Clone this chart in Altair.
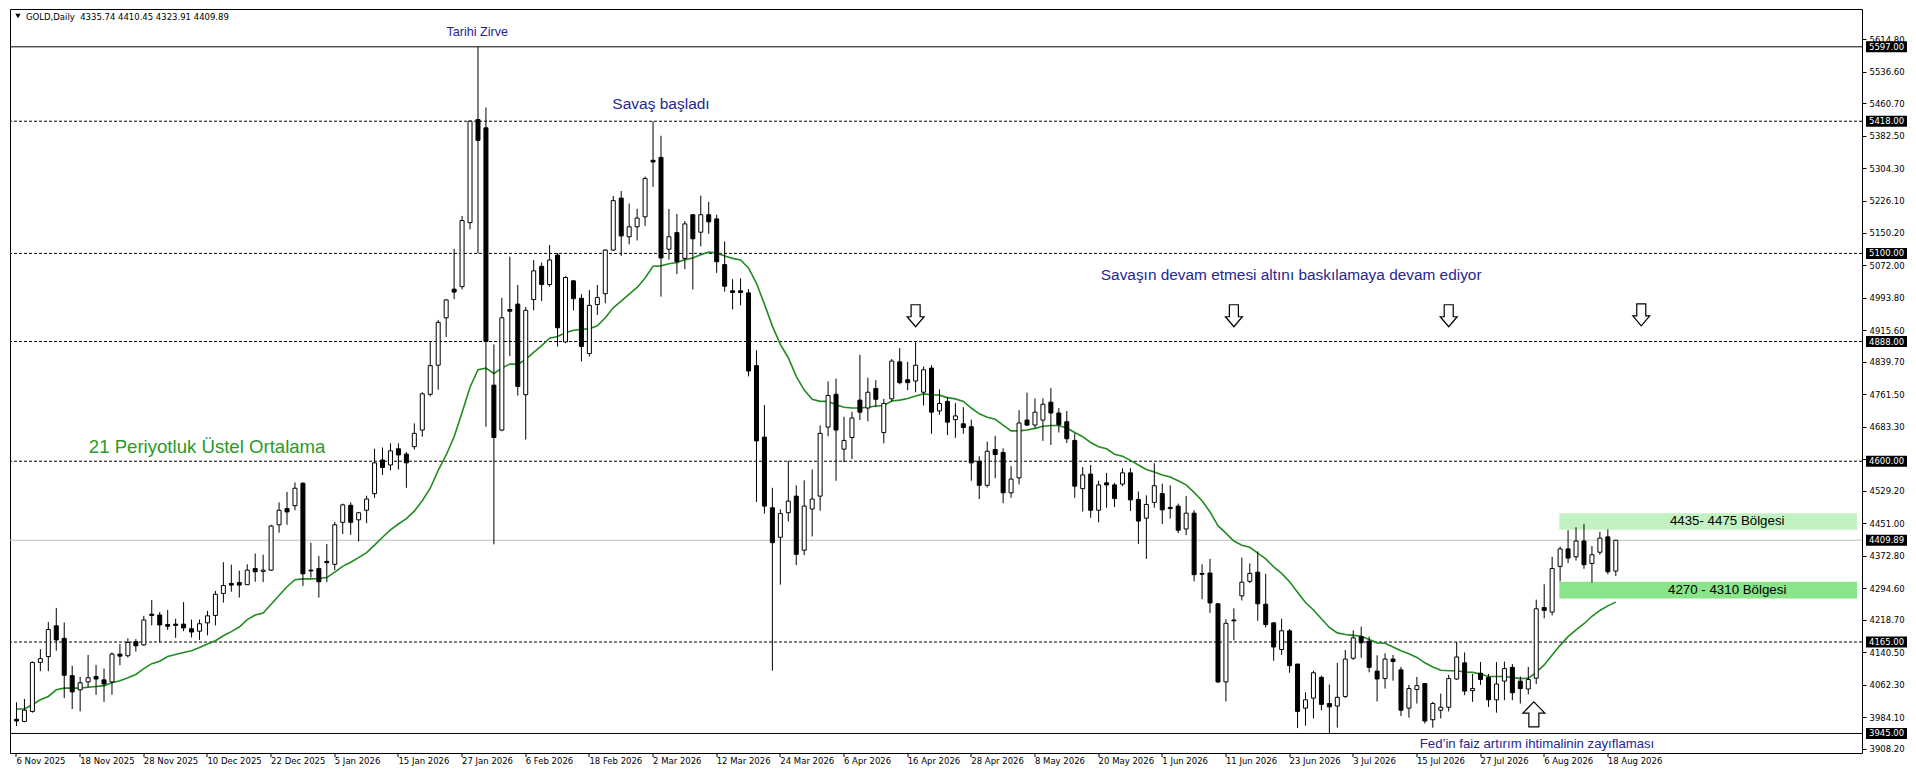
import altair as alt
import pandas as pd

# ---------------- data ----------------
x_labels = ["6 Nov 2025", "18 Nov 2025", "28 Nov 2025", "10 Dec 2025", "22 Dec 2025",
            "5 Jan 2026", "15 Jan 2026", "27 Jan 2026", "6 Feb 2026", "18 Feb 2026",
            "2 Mar 2026", "12 Mar 2026", "24 Mar 2026", "6 Apr 2026", "16 Apr 2026",
            "28 Apr 2026", "8 May 2026", "20 May 2026", "1 Jun 2026", "11 Jun 2026",
            "23 Jun 2026", "3 Jul 2026", "15 Jul 2026", "27 Jul 2026", "6 Aug 2026",
            "18 Aug 2026"]

opens = [3979, 3974, 3998, 4116, 4130, 4204, 4174, 4084, 4050, 4069,
         4082, 4074, 4069, 4136, 4132, 4166, 4158, 4232, 4230, 4207,
         4208, 4208, 4197, 4191, 4211, 4229, 4282, 4306, 4308, 4303,
         4342, 4335, 4338, 4447, 4486, 4493, 4547, 4338, 4342, 4359,
         4352, 4453, 4494, 4459, 4482, 4522, 4603, 4591, 4630, 4617,
         4635, 4675, 4761, 4831, 4945, 5014, 5020, 5174, 5422, 5402,
         4783, 4675, 4965, 4978, 4760, 4989, 5069, 5025, 5096, 4887,
         5034, 4992, 4859, 4977, 5003, 5108, 5233, 5140, 5164, 5188,
         5324, 5331, 5110, 5150, 5088, 5193, 5151, 5193, 5183, 5073,
         5010, 5010, 5005, 4830, 4658, 4488, 4417, 4476, 4516, 4386,
         4485, 4516, 4682, 4761, 4629, 4657, 4747, 4728, 4775, 4669,
         4750, 4839, 4796, 4793, 4766, 4824, 4721, 4744, 4700, 4690,
         4683, 4600, 4542, 4628, 4621, 4524, 4560, 4699, 4687, 4699,
         4742, 4716, 4695, 4650, 4534, 4569, 4482, 4548, 4543, 4545,
         4572, 4508, 4463, 4501, 4522, 4489, 4492, 4437, 4475, 4330,
         4331, 4257, 4069, 4218, 4276, 4311, 4333, 4256, 4211, 4147,
         4192, 4112, 4006, 4030, 4080, 4017, 4011, 4034, 4126, 4178,
         4167, 4095, 4077, 4124, 4098, 4006, 4051, 4065, 3978, 4001,
         4008, 4076, 4115, 4048, 4090, 4080, 4026, 4071, 4104, 4071,
         4052, 4078, 4248, 4237, 4347, 4389, 4370, 4408, 4354, 4381,
         4418, 4335.74]

highs = [4020, 4028, 4118, 4148, 4213, 4247, 4212, 4108, 4081, 4134,
         4110, 4101, 4140, 4160, 4174, 4172, 4228, 4266, 4237, 4242,
         4221, 4261, 4219, 4219, 4240, 4288, 4357, 4351, 4337, 4352,
         4378, 4375, 4447, 4501, 4526, 4549, 4549, 4404, 4372, 4401,
         4454, 4498, 4501, 4478, 4517, 4630, 4633, 4643, 4643, 4622,
         4691, 4766, 4887, 4940, 4990, 5111, 5190, 5420, 5597, 5451,
         4881, 4993, 5092, 5024, 4971, 5084, 5078, 5120, 5101, 5045,
         5036, 5002, 5012, 5024, 5110, 5238, 5250, 5220, 5207, 5285,
         5418, 5383, 5207, 5195, 5178, 5194, 5239, 5224, 5193, 5129,
         5038, 5040, 5014, 4867, 4735, 4536, 4484, 4601, 4542, 4554,
         4580, 4686, 4792, 4799, 4707, 4719, 4856, 4801, 4795, 4750,
         4846, 4872, 4839, 4888, 4828, 4831, 4773, 4754, 4740, 4730,
         4700, 4612, 4647, 4661, 4631, 4588, 4723, 4765, 4751, 4751,
         4776, 4728, 4721, 4667, 4586, 4591, 4553, 4572, 4548, 4583,
         4583, 4527, 4518, 4595, 4546, 4542, 4498, 4516, 4482, 4352,
         4365, 4258, 4220, 4246, 4368, 4354, 4383, 4329, 4213, 4221,
         4196, 4112, 4044, 4096, 4084, 4063, 4115, 4146, 4193, 4202,
         4178, 4133, 4138, 4134, 4105, 4062, 4081, 4065, 4021, 4041,
         4086, 4165, 4140, 4088, 4117, 4088, 4117, 4118, 4112, 4082,
         4105, 4267, 4304, 4370, 4395, 4434, 4441, 4449, 4396, 4430,
         4436, 4410.45]

lows = [3963, 3972, 3995, 4095, 4095, 4144, 4030, 4004, 3998, 4056,
        4038, 4021, 4038, 4109, 4128, 4142, 4156, 4205, 4164, 4194,
        4175, 4191, 4176, 4170, 4181, 4205, 4260, 4286, 4272, 4303,
        4310, 4309, 4336, 4428, 4447, 4482, 4300, 4320, 4272, 4309,
        4338, 4425, 4423, 4407, 4451, 4512, 4567, 4578, 4580, 4536,
        4628, 4659, 4756, 4772, 4899, 4990, 5013, 5158, 5100, 4683,
        4400, 4672, 4853, 4758, 4652, 4963, 4985, 5020, 4876, 4884,
        4963, 4840, 4852, 4952, 4980, 5106, 5094, 5122, 5131, 5166,
        5260, 4996, 5085, 5050, 5062, 5013, 5117, 5147, 5053, 5008,
        4965, 4975, 4804, 4502, 4474, 4096, 4303, 4455, 4350, 4374,
        4419, 4481, 4660, 4553, 4598, 4605, 4699, 4696, 4730, 4643,
        4744, 4785, 4771, 4766, 4734, 4666, 4712, 4663, 4656, 4666,
        4553, 4509, 4537, 4559, 4499, 4512, 4544, 4685, 4679, 4649,
        4639, 4669, 4644, 4512, 4479, 4464, 4453, 4488, 4490, 4540,
        4480, 4401, 4365, 4488, 4449, 4462, 4427, 4422, 4311, 4268,
        4235, 4066, 4022, 4169, 4265, 4307, 4216, 4200, 4120, 4134,
        4091, 3958, 3964, 3981, 4001, 3943, 3959, 4030, 4122, 4127,
        4092, 4022, 4053, 4072, 3987, 3983, 4017, 3969, 3959, 3981,
        3998, 4074, 4037, 4021, 4062, 4009, 3995, 4025, 4025, 4017,
        4039, 4064, 4222, 4229, 4311, 4355, 4361, 4341, 4308, 4375,
        4328, 4323.91]

closes = [3975, 4001, 4116, 4125, 4195, 4170, 4085, 4045, 4067, 4079,
          4076, 4064, 4136, 4131, 4164, 4156, 4218, 4229, 4206, 4203,
          4205, 4199, 4189, 4209, 4228, 4280, 4301, 4302, 4302, 4338,
          4334, 4338, 4444, 4482, 4478, 4535, 4329, 4336, 4310, 4356,
          4447, 4495, 4453, 4476, 4509, 4596, 4585, 4625, 4615, 4596,
          4667, 4762, 4830, 4934, 4988, 5007, 5179, 5418, 5372, 4888,
          4657, 4945, 4961, 4780, 4963, 5058, 5025, 5084, 4921, 5042,
          4991, 4876, 4975, 4994, 5108, 5227, 5142, 5164, 5185, 5280,
          5320, 5089, 5140, 5080, 5171, 5135, 5193, 5176, 5080, 5021,
          5006, 5006, 4817, 4649, 4492, 4404, 4474, 4504, 4376, 4492,
          4509, 4667, 4758, 4675, 4650, 4704, 4718, 4766, 4749, 4739,
          4841, 4789, 4789, 4831, 4820, 4718, 4739, 4694, 4709, 4681,
          4596, 4542, 4624, 4616, 4524, 4557, 4692, 4687, 4718, 4737,
          4716, 4688, 4654, 4540, 4567, 4482, 4543, 4543, 4510, 4572,
          4507, 4456, 4496, 4541, 4483, 4486, 4434, 4475, 4327, 4328,
          4259, 4069, 4210, 4216, 4309, 4330, 4257, 4207, 4153, 4192,
          4108, 3998, 4026, 4091, 4015, 4009, 4032, 4124, 4175, 4163,
          4104, 4076, 4124, 4118, 4001, 4053, 4060, 3975, 4017, 4008,
          4077, 4129, 4047, 4053, 4075, 4026, 4064, 4101, 4043, 4053,
          4075, 4245, 4241, 4342, 4389, 4367, 4408, 4351, 4375, 4415,
          4334, 4409.89]

ema_vals = [4004, 4004, 4014, 4026, 4034, 4050, 4054, 4054, 4054, 4056,
            4058, 4060, 4067, 4072, 4079, 4087, 4101, 4113, 4119, 4130,
            4135, 4140, 4144, 4152, 4160, 4168, 4180, 4190, 4201, 4219,
            4230, 4235, 4256, 4277, 4298, 4315, 4317, 4317, 4318, 4320,
            4333, 4347, 4357, 4368, 4380, 4398, 4417, 4435, 4449, 4462,
            4480, 4505, 4535, 4578, 4615, 4659, 4717, 4778, 4820, 4824,
            4811, 4824, 4834, 4833, 4845, 4862, 4878, 4896, 4900, 4909,
            4915, 4917, 4919, 4926, 4945, 4969, 4985, 5002, 5018, 5041,
            5069, 5070, 5075, 5078, 5085, 5089, 5097, 5103, 5101, 5094,
            5088, 5084, 5065, 5028, 4978, 4925, 4881, 4849, 4804, 4771,
            4749, 4744, 4744, 4736, 4730, 4728, 4728, 4730, 4733, 4734,
            4745, 4747, 4751, 4757, 4762, 4760, 4759, 4753, 4750, 4744,
            4728, 4714, 4706, 4701, 4687, 4673, 4673, 4675, 4679, 4684,
            4686, 4686, 4680, 4669, 4659, 4645, 4635, 4630, 4617, 4612,
            4602, 4591, 4580, 4574, 4567, 4562, 4553, 4543, 4525, 4505,
            4478, 4445, 4427, 4408, 4398, 4393, 4379, 4365, 4346, 4330,
            4310, 4285, 4260, 4242, 4221, 4200, 4187, 4183, 4181, 4179,
            4171, 4163, 4162, 4153, 4144, 4137, 4128, 4115, 4105, 4097,
            4096, 4096, 4093, 4092, 4088, 4082, 4082, 4082, 4080, 4077,
            4078, 4092, 4110, 4134, 4157, 4178, 4194, 4209, 4227, 4241,
            4252, 4261]

dashed_levels = [5418, 5100, 4888, 4600, 4165]
solid_levels = [5597, 3945]
last_price = 4409.89
price_tags = [5597.00, 5418.00, 5100.00, 4888.00, 4600.00, 4409.89, 4165.00, 3945.00]
axis_prices = [5614.80, 5536.60, 5460.70, 5382.50, 5304.30, 5226.10, 5150.20, 5072.00,
               4993.80, 4915.60, 4839.70, 4761.50, 4683.30, 4605.10, 4529.20, 4451.00,
               4372.80, 4294.60, 4218.70, 4140.50, 4062.30, 3984.10, 3908.20]

zone_low = [4435, 4270]
zone_high = [4475, 4310]
zone_text = ["4435- 4475 Bölgesi", "4270 - 4310 Bölgesi"]
zone_colors = ["#c2f2c2", "#8ae48a"]
zone_start_bar = 193.9
zone_text_bar = 215

note_text = ["Tarihi Zirve", "Savaş başladı",
             "Savaşın devam etmesi altını baskılamaya devam ediyor",
             "21 Periyotluk Üstel Ortalama",
             "Fed’in faiz artırım ihtimalinin zayıflaması"]
note_bar = [57.9, 81.0, 160.2, 23.96, 191.1]
note_price = [5632, 5459, 5048, 4634, 3919]
note_size = [12.6, 15.5, 15.4, 18.6, 13.2]
note_color = ["#26268f", "#26268f", "#26268f", "#2a9a2a", "#26268f"]

down_arrow_bar = [113.0, 153.0, 180.0, 204.2]
down_arrow_price = [4950, 4950, 4950, 4952]
up_arrow_bar = [190.7]
up_arrow_price = [3991]

# ---------------- layout ----------------
W, H = 1852, 744
X_DOMAIN = [-0.1875, W / 8 - 0.1875]
Y_DOMAIN = [3898, 5688]

n = len(closes)
bars = pd.DataFrame({"i": list(range(n)), "o": opens, "h": highs, "l": lows, "c": closes})
bars["fill"] = ["white" if c >= o else "black" for o, c in zip(opens, closes)]
ema = pd.DataFrame({"i": list(range(len(ema_vals))), "v": ema_vals})

xs = alt.Scale(domain=X_DOMAIN, nice=False, zero=False)
ys = alt.Scale(domain=Y_DOMAIN, nice=False, zero=False)

label_expr = "[" + ",".join("'%s'" % s for s in x_labels) + "][round(datum.value / 8)]"
x_axis = alt.Axis(values=[8 * k for k in range(len(x_labels))], labelExpr=label_expr,
                  orient="bottom", tickSize=4, tickColor="black", labelAlign="left",
                  labelBaseline="top", labelPadding=0, domain=False, grid=False,
                  title=None, labelOverlap=False, labelFlush=False, translate=0)
y_axis = alt.Axis(orient="right", values=axis_prices, format=".2f", tickSize=4,
                  tickColor="black", labelPadding=3, domain=False, grid=False, title=None,
                  labelOverlap=False, labelFlush=False)


def X(f):
    return alt.X(f, type="quantitative", scale=xs, axis=x_axis)


def Y(f):
    return alt.Y(f, type="quantitative", scale=ys, axis=y_axis)


zones = pd.DataFrame({"x0": [zone_start_bar] * 2, "x1": [X_DOMAIN[1]] * 2,
                      "lo": zone_low, "hi": zone_high, "col": zone_colors,
                      "t": zone_text, "tx": [zone_text_bar] * 2,
                      "ty": [(a + b) / 2 for a, b in zip(zone_low, zone_high)]})

zone_rect = alt.Chart(zones).mark_rect().encode(
    x=X("x0"), x2="x1", y=Y("lo"), y2="hi", fill=alt.Fill("col:N", scale=None))

dashed = alt.Chart(pd.DataFrame({"p": dashed_levels})).mark_rule(
    color="black", strokeWidth=1, strokeDash=[3, 2]).encode(y=Y("p"))
solid = alt.Chart(pd.DataFrame({"p": solid_levels})).mark_rule(
    color="black", strokeWidth=1).encode(y=Y("p"))
bid = alt.Chart(pd.DataFrame({"p": [last_price]})).mark_rule(
    color="#c0c0c0", strokeWidth=1).encode(y=Y("p"))

ema_line = alt.Chart(ema).mark_line(color="#228B22", strokeWidth=1.6).encode(
    x=X("i"), y=Y("v"))

wicks = alt.Chart(bars).mark_rule(color="black", strokeWidth=1).encode(
    x=X("i"), y=Y("l"), y2="h")
bodies = alt.Chart(bars).mark_bar(size=4, stroke="black", strokeWidth=1).encode(
    x=X("i"), y=Y("o"), y2="c", fill=alt.Fill("fill:N", scale=None))

zone_label = alt.Chart(zones).mark_text(
    font="Liberation Sans", fontSize=13.3, color="black", baseline="middle",
    align="center").encode(x=X("tx"), y=Y("ty"), text="t:N")

notes = pd.DataFrame({"t": note_text, "x": note_bar, "y": note_price,
                      "fs": note_size, "col": note_color})
note_layer = alt.Chart(notes).mark_text(
    font="Liberation Sans", baseline="middle", align="center").encode(
    x=X("x"), y=Y("y"), text="t:N", size=alt.Size("fs:Q", scale=None),
    color=alt.Color("col:N", scale=None))

DOWN = "M -0.41 -1 L 0.41 -1 L 0.41 0.09 L 0.77 0.09 L 0 1 L -0.77 0.09 L -0.41 0.09 Z"
UP = "M 0 -1 L 0.88 -0.1 L 0.4 -0.1 L 0.4 1 L -0.4 1 L -0.4 -0.1 L -0.88 -0.1 Z"
down_arrows = alt.Chart(pd.DataFrame({"x": down_arrow_bar, "y": down_arrow_price})).mark_point(
    shape=DOWN, size=484, filled=True, fill="white", stroke="black", strokeWidth=1.2,
    opacity=1, fillOpacity=1, strokeOpacity=1).encode(x=X("x"), y=Y("y"))
up_arrows = alt.Chart(pd.DataFrame({"x": up_arrow_bar, "y": up_arrow_price})).mark_point(
    shape=UP, size=625, filled=True, fill="white", stroke="black", strokeWidth=1.2,
    opacity=1, fillOpacity=1, strokeOpacity=1).encode(x=X("x"), y=Y("y"))

tags = pd.DataFrame({"p": price_tags, "t": ["%.2f" % p for p in price_tags]})
tag_rect = alt.Chart(tags).mark_rect(color="black", yOffset=-5.5, y2Offset=5.5).encode(
    x=alt.value(W + 4), x2=alt.value(W + 45), y=Y("p"), y2=alt.Y2("p:Q"))
tag_text = alt.Chart(tags).mark_text(
    align="left", baseline="middle", color="white", font="DejaVu Sans",
    fontSize=8.5).encode(x=alt.value(W + 7), y=Y("p"), text="t:N")

header_txt = "GOLD,Daily\u00a0\u00a0%.2f %.2f %.2f %.2f" % (opens[-1], highs[-1], lows[-1], closes[-1])
header = alt.Chart(pd.DataFrame({"t": [header_txt]})).mark_text(
    align="left", baseline="middle", font="DejaVu Sans", fontSize=8.5,
    color="black").encode(x=alt.value(16), y=alt.value(7.5), text="t:N")
header_tri = alt.Chart(pd.DataFrame({"t": ["v"]})).mark_point(
    shape="triangle-down", size=28, filled=True, color="black", opacity=1).encode(
    x=alt.value(8), y=alt.value(7))

chart = alt.layer(
    zone_rect, dashed, solid, bid, ema_line, wicks, bodies, zone_label, note_layer,
    down_arrows, up_arrows, tag_rect, tag_text, header, header_tri
).properties(
    width=W, height=H,
    padding={"left": 1, "top": 1, "right": 0, "bottom": 0},
    background="white",
).configure_view(
    stroke="black", strokeWidth=1
).configure_axis(
    labelFont="DejaVu Sans", labelFontSize=8.5, labelColor="black"
)

chart.save("out.html", embed_options={"renderer": "svg", "actions": False})
